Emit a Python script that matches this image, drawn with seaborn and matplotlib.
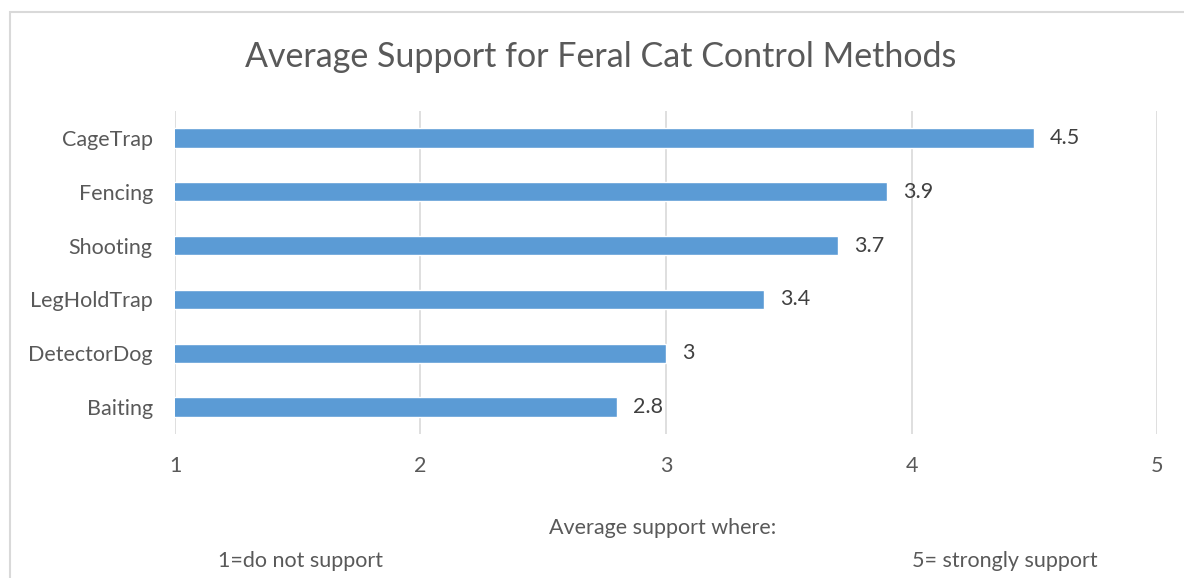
import matplotlib
matplotlib.use("Agg")
import matplotlib.pyplot as plt
import seaborn as sns
import pandas as pd
from matplotlib.patches import Rectangle

# данные с картинки
methods = ["CageTrap", "Fencing", "Shooting", "LegHoldTrap", "DetectorDog", "Baiting"]
support = [4.5, 3.9, 3.7, 3.4, 3.0, 2.8]
value_labels = ["4.5", "3.9", "3.7", "3.4", "3", "2.8"]
x_ticks = [1, 2, 3, 4, 5]

df = pd.DataFrame({"method": methods, "support": support})

sns.set_theme(style="white")
plt.rcParams["font.family"] = ["Lato", "DejaVu Sans"]

text_grey = "#595959"
bar_blue = "#5B9BD5"
grid_grey = "#D9D9D9"
fs = 15.5

fig = plt.figure(figsize=(11.84, 5.78), dpi=100)
ax = fig.add_axes([0.1478, 0.249, 0.8294, 0.559])

# рамка диаграммы (уходит за правый и нижний край)
fig.patches.append(Rectangle((10 / 1184, -0.1), 1.2, 1 - 12 / 578 + 0.1,
                             transform=fig.transFigure, fill=False,
                             edgecolor=grid_grey, linewidth=1.5))

sns.barplot(data=df, x="support", y="method", orient="h", color=bar_blue,
            width=0.36, saturation=1, ax=ax, zorder=3)

ax.set_xlim(1, 5)
ax.set_ylim(5.5, -0.5)
ax.set_xticks(x_ticks)
ax.set_xticklabels([str(t) for t in x_ticks])
ax.xaxis.grid(True, color=grid_grey, linewidth=1.2, zorder=0)
ax.yaxis.grid(False)
for s in ax.spines.values():
    s.set_visible(False)
ax.tick_params(axis="x", length=0, pad=16, labelsize=fs, labelcolor=text_grey)
ax.tick_params(axis="y", length=0, pad=16, labelsize=fs, labelcolor=text_grey)
ax.set_xlabel("")
ax.set_ylabel("")

# подписи значений
for i, (v, lab) in enumerate(zip(support, value_labels)):
    ax.text(v + 0.065, i, lab, va="center", ha="left", fontsize=fs, color="#404040")

fig.text(0.5 * (247 + 955) / 1184, 1 - 57 / 578, "Average Support for Feral Cat Control Methods",
         ha="center", va="center", fontsize=24.5, color=text_grey)
fig.text(663 / 1184, 1 - 528 / 578, "Average support where:", ha="center", va="center",
         fontsize=fs, color=text_grey)
fig.text(300 / 1184, 1 - 561 / 578, "1=do not support", ha="center", va="center",
         fontsize=fs, color=text_grey)
fig.text(1005 / 1184, 1 - 561 / 578, "5= strongly support", ha="center", va="center",
         fontsize=fs, color=text_grey)

fig.savefig("out.png", dpi=100, facecolor="white")
